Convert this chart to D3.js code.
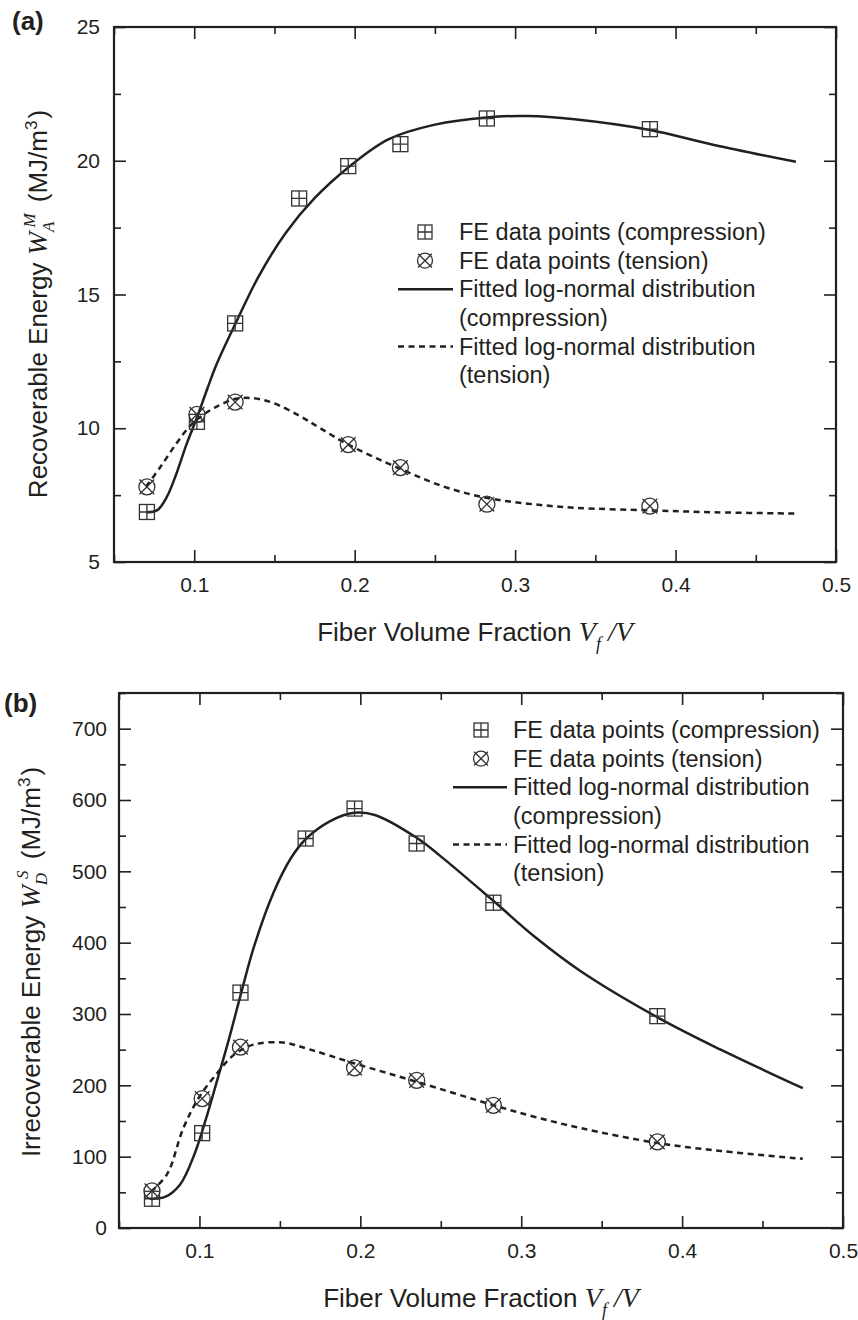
<!DOCTYPE html>
<html>
<head>
<meta charset="utf-8">
<script src="https://cdn.jsdelivr.net/npm/d3@7/dist/d3.min.js"></script>
<style>
  body { margin: 0; background: #fff; }
  svg { display: block; }
</style>
</head>
<body>
<div id="chart"></div>
<script>
// ---- data ----
// (a) recoverable energy, FE points
var aCompX = [0.0705, 0.1017, 0.1255, 0.1654, 0.196, 0.2285, 0.2824, 0.384];
var aCompY = [6.87, 10.24, 13.92, 18.59, 19.80, 20.62, 21.58, 21.18];
var aTensX = [0.0705, 0.1017, 0.1255, 0.196, 0.2285, 0.2824, 0.384];
var aTensY = [7.81, 10.52, 10.98, 9.39, 8.53, 7.16, 7.09];
// (a) fitted curves
var aFitCompX = [0.070, 0.077, 0.083, 0.089, 0.095, 0.102, 0.108, 0.114, 0.126, 0.140, 0.157, 0.175, 0.196, 0.221, 0.250, 0.282, 0.308, 0.337, 0.384, 0.424, 0.475];
var aFitCompY = [6.86, 6.94, 7.44, 8.32, 9.37, 10.45, 11.45, 12.4, 13.95, 15.66, 17.3, 18.6, 19.75, 20.8, 21.35, 21.62, 21.67, 21.55, 21.15, 20.59, 19.96];
var aFitTensX = [0.070, 0.079, 0.089, 0.097, 0.104, 0.114, 0.126, 0.137, 0.149, 0.166, 0.178, 0.196, 0.228, 0.256, 0.282, 0.308, 0.337, 0.384, 0.424, 0.475];
var aFitTensY = [7.82, 8.56, 9.44, 10.06, 10.43, 10.81, 11.1, 11.12, 10.95, 10.45, 10.02, 9.39, 8.49, 7.81, 7.40, 7.18, 7.03, 6.93, 6.86, 6.81];

// (b) irrecoverable energy, FE points
var bCompX = [0.0705, 0.1017, 0.1255, 0.1660, 0.1964, 0.2350, 0.2827, 0.3846];
var bCompY = [41, 133, 330, 546, 588, 539, 456, 297];
var bTensX = [0.0705, 0.1017, 0.1255, 0.1964, 0.2350, 0.2827, 0.3846];
var bTensY = [52, 181.5, 253.5, 224.5, 207, 172, 120.7];
// (b) fitted curves
var bFitCompX = [0.069, 0.079, 0.088, 0.097, 0.105, 0.111, 0.118, 0.126, 0.134, 0.146, 0.157, 0.166, 0.181, 0.196, 0.209, 0.235, 0.250, 0.283, 0.308, 0.337, 0.385, 0.424, 0.475];
var bFitCompY = [41, 44, 61, 104, 160, 207, 262, 330, 395, 470, 519, 545, 570, 582, 579, 547, 521, 458, 409, 360, 295, 250, 196];
var bFitTensX = [0.070, 0.080, 0.090, 0.100, 0.111, 0.121, 0.1335, 0.152, 0.169, 0.196, 0.235, 0.283, 0.308, 0.337, 0.385, 0.424, 0.475];
var bFitTensY = [51, 76, 140, 184, 217, 242, 257, 260, 250, 231, 205, 172, 156, 140, 119, 108, 97];

var xMajor = [0.1, 0.2, 0.3, 0.4, 0.5];
var xMinor = [0.05, 0.15, 0.25, 0.35, 0.45];
var aYMajor = [5, 10, 15, 20, 25];
var aYMinor = [7.5, 12.5, 17.5, 22.5];
var bYMajor = [0, 100, 200, 300, 400, 500, 600, 700];
var bYMinor = [50, 150, 250, 350, 450, 550, 650, 750];

var legendLabels = ["FE data points (compression)", "FE data points (tension)",
  "Fitted log-normal distribution", "(compression)",
  "Fitted log-normal distribution", "(tension)"];

// ---- drawing ----
var INK = "#231f20";
var SANS = "'Liberation Sans', Arial, Helvetica, sans-serif";
var SERIF = "'Liberation Serif', 'Times New Roman', serif";

var svg = d3.select("#chart").append("svg")
  .attr("width", 858).attr("height", 1320);

function zip(xs, ys){ return xs.map(function(x,i){ return [x, ys[i]]; }); }

function squareMark(g, cx, cy, s){
  var h = s/2;
  g.append("rect").attr("x", cx-h).attr("y", cy-h).attr("width", s).attr("height", s)
    .attr("fill", "none").attr("stroke", "#333").attr("stroke-width", 1.3);
  g.append("path").attr("d", "M"+(cx-h)+","+cy+"H"+(cx+h)+"M"+cx+","+(cy-h)+"V"+(cy+h))
    .attr("stroke", "#333").attr("stroke-width", 1.3);
}
function circleMark(g, cx, cy, r){
  var k = r*0.92;
  g.append("circle").attr("cx", cx).attr("cy", cy).attr("r", r)
    .attr("fill", "none").attr("stroke", "#333").attr("stroke-width", 1.3);
  g.append("path").attr("d", "M"+(cx-k)+","+(cy-k)+"L"+(cx+k)+","+(cy+k)+"M"+(cx-k)+","+(cy+k)+"L"+(cx+k)+","+(cy-k))
    .attr("stroke", "#333").attr("stroke-width", 1.3);
}

function drawPanel(p){
  var x = d3.scaleLinear().domain([0.05, 0.5]).range([p.left, p.right]);
  var y = d3.scaleLinear().domain(p.yDomain).range([p.bottom, p.top]);
  var g = svg.append("g");

  // ticks (inward on all four sides)
  function styleAxis(sel){
    sel.select(".domain").remove();
    sel.selectAll("line").attr("stroke", INK).attr("stroke-width", 1.6);
    sel.selectAll("text").attr("fill", INK).style("font-family", SANS).style("font-size", "21px");
  }
  g.append("g").attr("transform", "translate(0,"+p.bottom+")")
    .call(d3.axisBottom(x).tickValues(xMajor).tickSize(-12).tickPadding(15).tickFormat(d3.format(".1f")))
    .call(styleAxis);
  g.append("g").attr("transform", "translate(0,"+p.bottom+")")
    .call(d3.axisBottom(x).tickValues(xMinor).tickSize(-7).tickFormat("")).call(styleAxis);
  g.append("g").attr("transform", "translate(0,"+p.top+")")
    .call(d3.axisTop(x).tickValues(xMajor).tickSize(-12).tickFormat("")).call(styleAxis);
  g.append("g").attr("transform", "translate(0,"+p.top+")")
    .call(d3.axisTop(x).tickValues(xMinor).tickSize(-7).tickFormat("")).call(styleAxis);
  g.append("g").attr("transform", "translate("+p.left+",0)")
    .call(d3.axisLeft(y).tickValues(p.yMajor).tickSize(-12).tickPadding(p.yPad).tickFormat(d3.format("d")))
    .call(styleAxis);
  g.append("g").attr("transform", "translate("+p.left+",0)")
    .call(d3.axisLeft(y).tickValues(p.yMinor).tickSize(-7).tickFormat("")).call(styleAxis);
  g.append("g").attr("transform", "translate("+p.right+",0)")
    .call(d3.axisRight(y).tickValues(p.yMajor).tickSize(-12).tickFormat("")).call(styleAxis);
  g.append("g").attr("transform", "translate("+p.right+",0)")
    .call(d3.axisRight(y).tickValues(p.yMinor).tickSize(-7).tickFormat("")).call(styleAxis);

  // frame
  g.append("rect").attr("x", p.left).attr("y", p.top)
    .attr("width", p.right-p.left).attr("height", p.bottom-p.top)
    .attr("fill", "none").attr("stroke", INK).attr("stroke-width", 2.2);

  // fitted curves
  var line = d3.line().x(function(d){ return x(d[0]); }).y(function(d){ return y(d[1]); })
    .curve(d3.curveCatmullRom.alpha(0.5));
  g.append("path").attr("d", line(zip(p.fitCompX, p.fitCompY)))
    .attr("fill", "none").attr("stroke", INK).attr("stroke-width", 2.5);
  g.append("path").attr("d", line(zip(p.fitTensX, p.fitTensY)))
    .attr("fill", "none").attr("stroke", INK).attr("stroke-width", 2.5)
    .attr("stroke-dasharray", "6,4.5");

  // FE points
  zip(p.compX, p.compY).forEach(function(d){ squareMark(g, x(d[0]), y(d[1]), 15); });
  zip(p.tensX, p.tensY).forEach(function(d){ circleMark(g, x(d[0]), y(d[1]), 8); });

  // legend
  var lg = g.append("g");
  legendLabels.forEach(function(t, i){
    var ly = p.legY + i*28.6;
    lg.append("text").attr("x", p.legText).attr("y", ly).attr("dy", "0.35em")
      .attr("fill", INK).style("font-family", SANS).style("font-size", "23.5px").text(t);
  });
  squareMark(lg, p.legMark, p.legY, 14);
  circleMark(lg, p.legMark, p.legY + 28.6, 7.5);
  lg.append("line").attr("x1", p.legLine[0]).attr("x2", p.legLine[1])
    .attr("y1", p.legY + 2*28.6).attr("y2", p.legY + 2*28.6)
    .attr("stroke", INK).attr("stroke-width", 2.5);
  lg.append("line").attr("x1", p.legLine[0]).attr("x2", p.legLine[1])
    .attr("y1", p.legY + 4*28.6).attr("y2", p.legY + 4*28.6)
    .attr("stroke", INK).attr("stroke-width", 2.5).attr("stroke-dasharray", "6,4.5");

  // x title
  var xt = g.append("text").attr("x", (p.left+p.right)/2).attr("y", p.xTitleY)
    .attr("text-anchor", "middle").attr("fill", INK)
    .style("font-family", SANS).style("font-size", "26px");
  xt.append("tspan").text("Fiber Volume Fraction ");
  xt.append("tspan").style("font-family", SERIF).style("font-style", "italic").style("font-size", "28px").text("V");
  xt.append("tspan").attr("dy", 9).style("font-family", SERIF).style("font-style", "italic").style("font-size", "18px").text("f");
  xt.append("tspan").attr("dy", -9).style("font-family", SERIF).style("font-style", "italic").style("font-size", "28px").text(" /V");

  // y title
  var yt = g.append("text")
    .attr("transform", "translate("+p.yTitleX+","+p.yTitleC+") rotate(-90)")
    .attr("text-anchor", "middle").attr("fill", INK)
    .style("font-family", SANS).style("font-size", "26px");
  yt.append("tspan").text(p.yName + " ");
  yt.append("tspan").style("font-family", SERIF).style("font-style", "italic").style("font-size", "28px").text("W");
  yt.append("tspan").attr("dy", 7).style("font-family", SERIF).style("font-style", "italic").style("font-size", "17px").text(p.ySub);
  yt.append("tspan").attr("dx", -6).attr("dy", -19).style("font-family", SERIF).style("font-style", "italic").style("font-size", "17px").text(p.ySup);
  yt.append("tspan").attr("dx", 4).attr("dy", 12).text(" (MJ/m");
  yt.append("tspan").attr("dy", -10).style("font-size", "17px").text("3");
  yt.append("tspan").attr("dx", 2).attr("dy", 10).text(")");

  // panel label
  g.append("text").attr("x", p.tagX).attr("y", p.tagY).attr("fill", INK)
    .style("font-family", SANS).style("font-weight", "bold").style("font-size", "26px").text(p.tag);
}

drawPanel({
  left: 114, right: 836, top: 27, bottom: 562,
  yDomain: [5, 25], yMajor: aYMajor, yMinor: aYMinor, yPad: 14,
  compX: aCompX, compY: aCompY, tensX: aTensX, tensY: aTensY,
  fitCompX: aFitCompX, fitCompY: aFitCompY, fitTensX: aFitTensX, fitTensY: aFitTensY,
  legY: 232, legMark: 425, legText: 459, legLine: [398, 453],
  xTitleY: 641, yTitleX: 47, yTitleC: 304,
  yName: "Recoverable Energy", ySub: "A", ySup: "M",
  tag: "(a)", tagX: 12, tagY: 30
});

drawPanel({
  left: 119, right: 843, top: 693, bottom: 1228,
  yDomain: [0, 750], yMajor: bYMajor, yMinor: bYMinor, yPad: 12,
  compX: bCompX, compY: bCompY, tensX: bTensX, tensY: bTensY,
  fitCompX: bFitCompX, fitCompY: bFitCompY, fitTensX: bFitTensX, fitTensY: bFitTensY,
  legY: 730, legMark: 481, legText: 513, legLine: [453, 507],
  xTitleY: 1307, yTitleX: 40, yTitleC: 962,
  yName: "Irrecoverable Energy", ySub: "D", ySup: "S",
  tag: "(b)", tagX: 4, tagY: 712
});
</script>
</body>
</html>
